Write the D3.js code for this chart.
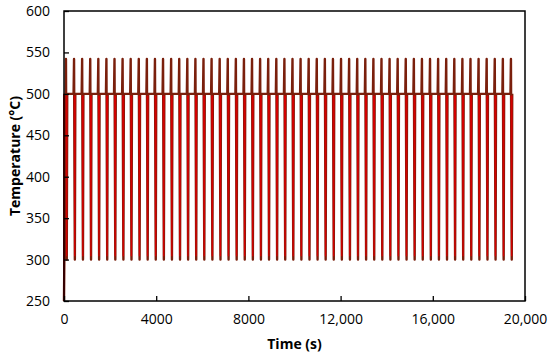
<!DOCTYPE html>
<html>
<head>
<meta charset="utf-8">
<script src="https://cdn.jsdelivr.net/npm/d3@7"></script>
<style>
  body { margin: 0; background: #fff; }
  svg text { font-family: "Open Sans", "Noto Sans", sans-serif; fill: #000; }
</style>
</head>
<body>
<script>
// peak times of each thermal cycle (s)
var peakTimes = [110, 461, 812, 1163, 1514, 1865, 2216, 2567, 2918, 3269,
  3620, 3971, 4322, 4673, 5024, 5375, 5726, 6077, 6428, 6779,
  7130, 7481, 7832, 8183, 8534, 8885, 9236, 9587, 9938, 10289,
  10640, 10991, 11342, 11693, 12044, 12395, 12746, 13097, 13448, 13799,
  14150, 14501, 14852, 15203, 15554, 15905, 16256, 16607, 16958, 17309,
  17660, 18011, 18362, 18713, 19064, 19415];

// one cycle, offsets from the peak (s) and temperature (°C)
var outerOffsets = [-45, -25, 10, 30];
var outerTemps   = [500, 542, 300, 500];
var innerOffsets = [-15, 5, 20];
var innerTemps   = [498, 304, 498];

var startTemp = 250, holdTemp = 500;
var xTicks = [0, 4000, 8000, 12000, 16000, 20000];
var xTickLabels = ["0", "4000", "8000", "12,000", "16,000", "20,000"];
var yTicks = [250, 300, 350, 400, 450, 500, 550, 600];

var width = 550, height = 359;
var margin = {top: 11, right: 25, bottom: 58, left: 64};
var w = width - margin.left - margin.right,
    h = height - margin.top - margin.bottom;

var svg = d3.select("body").append("svg")
  .attr("width", width)
  .attr("height", height);

var g = svg.append("g")
  .attr("transform", "translate(" + margin.left + "," + margin.top + ")");

var x = d3.scaleLinear().domain([0, 20000]).range([0, w]);
var y = d3.scaleLinear().domain([250, 600]).range([h, 0]);

// dark trace: one continuous line; red trace: a dip inside each spike
var outer = [[0, startTemp]];
var inner = [[[0, startTemp], [0, holdTemp]]];
peakTimes.forEach(function(p, i) {
  outerOffsets.forEach(function(o, j) {
    if (i == 0 && j == 0) return;
    outer.push([p + o, outerTemps[j]]);
  });
  inner.push(innerOffsets.map(function(o, j) { return [p + o, innerTemps[j]]; }));
});

var line = d3.line()
  .x(function(d) { return x(Math.max(0, d[0])); })
  .y(function(d) { return y(d[1]); });

g.append("path")
  .datum(outer)
  .attr("fill", "none")
  .attr("stroke", "#7a1f0c")
  .attr("stroke-width", 2.4)
  .attr("stroke-linejoin", "round")
  .attr("d", line);

g.selectAll(".dip")
  .data(inner)
  .enter().append("path")
  .attr("class", "dip")
  .attr("fill", "none")
  .attr("stroke", "#d40000")
  .attr("stroke-width", function(d, i) { return i == 0 ? 2 : 1.3; })
  .attr("d", line);

// frame
g.append("rect")
  .attr("width", w)
  .attr("height", h)
  .attr("fill", "none")
  .attr("stroke", "#000")
  .attr("stroke-width", 1.5);

var xAxis = g.append("g")
  .attr("transform", "translate(0," + h + ")")
  .call(d3.axisBottom(x).tickValues(xTicks)
    .tickFormat(function(d, i) { return xTickLabels[i]; })
    .tickSizeInner(-5).tickSizeOuter(0).tickPadding(13));
xAxis.select(".domain").remove();
xAxis.selectAll("line").attr("stroke", "#000").attr("stroke-width", 1.3);
xAxis.selectAll("text").style("font-size", "14px");

var yAxis = g.append("g")
  .call(d3.axisLeft(y).tickValues(yTicks)
    .tickSizeInner(-5).tickSizeOuter(0).tickPadding(14));
yAxis.select(".domain").remove();
yAxis.selectAll("line").attr("stroke", "#000").attr("stroke-width", 1.3);
yAxis.selectAll("text").style("font-size", "14px");

svg.append("text")
  .attr("x", margin.left + w / 2)
  .attr("y", 349)
  .attr("text-anchor", "middle")
  .style("font-size", "14px")
  .style("font-weight", "bold")
  .text("Time (s)");

svg.append("text")
  .attr("transform", "translate(20," + (margin.top + h / 2) + ") rotate(-90)")
  .attr("text-anchor", "middle")
  .style("font-size", "14px")
  .style("font-weight", "bold")
  .text("Temperature (°C)");
</script>
</body>
</html>
